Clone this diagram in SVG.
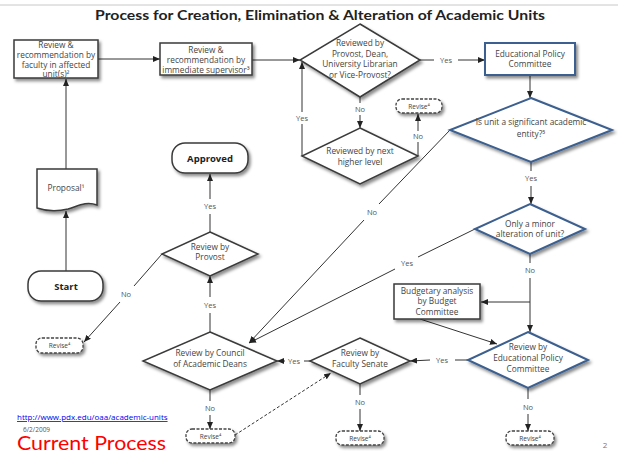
<svg xmlns="http://www.w3.org/2000/svg" width="618" height="454" viewBox="0 0 618 454">
<defs>
<filter id="sh" x="-20%" y="-20%" width="150%" height="160%">
<feDropShadow dx="2" dy="2.5" stdDeviation="1.5" flood-color="#000" flood-opacity="0.45"/>
</filter>
<marker id="ar" markerUnits="userSpaceOnUse" markerWidth="8" markerHeight="6" refX="7" refY="3" orient="auto">
<path d="M0,0 L7,3 L0,6 z" fill="#222"/>
</marker>
<style>
.box{fill:#fff;stroke:#3a3a3a;stroke-width:1.5;filter:url(#sh)}
.blue{fill:#fff;stroke:#3b5f8e;stroke-width:2;filter:url(#sh)}
.dash{fill:#fff;stroke:#444;stroke-width:1.3;stroke-dasharray:3 1.5;filter:url(#sh)}
.t{font-family:"Open Sans","DejaVu Sans",sans-serif;font-size:8.3px;fill:#444;text-anchor:middle}
.b{font-weight:bold;font-size:9.5px;fill:#222}
.s{font-size:6.5px}
.l{font-family:"Open Sans","DejaVu Sans",sans-serif;font-size:7.5px;fill:#555;text-anchor:middle}
.c{stroke:#333;stroke-width:1;fill:none}
.a{marker-end:url(#ar)}
.d{stroke-dasharray:3 2}
</style>
</defs>
<rect width="618" height="454" fill="#fff"/>
<line x1="0" y1="5" x2="618" y2="5" stroke="#c8c8c8" stroke-width="1"/>
<text x="320" y="20" font-family="Lato,'Open Sans',sans-serif" font-weight="bold" font-size="14" fill="#222" text-anchor="middle" textLength="450" lengthAdjust="spacingAndGlyphs">Process for Creation, Elimination &amp; Alteration of Academic Units</text>

<g id="connectors">
<line class="c a" x1="66" y1="169" x2="66" y2="79"/>
<line class="c a" x1="66" y1="271" x2="66" y2="211"/>
<line class="c a" x1="98" y1="59" x2="160" y2="59"/>
<line class="c a" x1="252" y1="60" x2="300" y2="60"/>
<line class="c" x1="420" y1="60" x2="434" y2="60"/>
<line class="c a" x1="458" y1="60" x2="485" y2="60"/>
<line class="c a" x1="530" y1="75" x2="530" y2="98"/>
<line class="c" x1="360" y1="97" x2="360" y2="103"/>
<line class="c a" x1="360" y1="115" x2="360" y2="128"/>
<line class="c" x1="302" y1="156" x2="302" y2="124"/>
<line class="c a" x1="302" y1="112" x2="302" y2="62"/>
<line class="c" x1="418" y1="156" x2="418" y2="142"/>
<line class="c a" x1="418" y1="131" x2="418" y2="114"/>
<line class="c" x1="450" y1="130" x2="379" y2="204"/>
<line class="c a" x1="364" y1="220" x2="249" y2="343"/>
<line class="c" x1="531" y1="162" x2="531" y2="171"/>
<line class="c a" x1="531" y1="186" x2="531" y2="204"/>
<line class="c" x1="475" y1="229" x2="418" y2="257"/>
<line class="c a" x1="395" y1="269" x2="249" y2="343"/>
<line class="c" x1="530" y1="254" x2="530" y2="263"/>
<line class="c a" x1="530" y1="278" x2="530" y2="332"/>
<line class="c a" x1="530" y1="302" x2="481" y2="302"/>
<line class="c a" x1="420" y1="319" x2="497" y2="344"/>
<line class="c" x1="468" y1="360" x2="455" y2="360"/>
<line class="c a" x1="430" y1="360" x2="410" y2="361"/>
<line class="c" x1="310" y1="361" x2="304" y2="361"/>
<line class="c a" x1="285" y1="361" x2="277" y2="361"/>
<line class="c" x1="210" y1="332" x2="210" y2="313"/>
<line class="c a" x1="210" y1="297" x2="210" y2="276"/>
<line class="c" x1="210" y1="232" x2="210" y2="214"/>
<line class="c a" x1="210" y1="199" x2="210" y2="174"/>
<line class="c" x1="162" y1="254" x2="134" y2="286"/>
<line class="c a" x1="120" y1="302" x2="84" y2="342"/>
<line class="c" x1="210" y1="390" x2="210" y2="401"/>
<line class="c a" x1="210" y1="415" x2="210" y2="429"/>
<line class="c" x1="360" y1="384" x2="360" y2="395"/>
<line class="c a" x1="360" y1="409" x2="360" y2="431"/>
<line class="c" x1="528" y1="388" x2="528" y2="399"/>
<line class="c a" x1="528" y1="414" x2="528" y2="431"/>
<line class="c a d" x1="235" y1="435" x2="331" y2="373"/>
<text class="l" x="446" y="63">Yes</text>
<text class="l" x="360" y="112">No</text>
<text class="l" x="302" y="121">Yes</text>
<text class="l" x="418" y="139">No</text>
<text class="l" x="531" y="181">Yes</text>
<text class="l" x="372" y="215">No</text>
<text class="l" x="407" y="266">Yes</text>
<text class="l" x="530" y="273">No</text>
<text class="l" x="442" y="363">Yes</text>
<text class="l" x="294" y="364">Yes</text>
<text class="l" x="210" y="308">Yes</text>
<text class="l" x="210" y="209">Yes</text>
<text class="l" x="126" y="297">No</text>
<text class="l" x="210" y="411">No</text>
<text class="l" x="360" y="405">No</text>
<text class="l" x="528" y="410">No</text>
</g>

<g id="start">
<rect class="box" x="28" y="271" width="75" height="30" rx="13"/>
<text class="t b" x="66" y="290">Start</text>
</g>
<g id="proposal">
<path class="box" d="M37,169 H97 V205 C86,201 78,206 68,209 C56,212 46,211 37,208 Z"/>
<text class="t" x="66" y="191" font-size="7.5">Proposal¹</text>
</g>
<g id="faculty">
<rect class="box" x="14" y="40" width="84" height="38"/>
<text class="t" x="56" y="47.5">Review &amp;</text>
<text class="t" x="56" y="57.5">recommendation by</text>
<text class="t" x="56" y="67.5">faculty in affected</text>
<text class="t" x="56" y="77">unit(s)²</text>
</g>
<g id="supervisor">
<rect class="box" x="160" y="43" width="92" height="32"/>
<text class="t" x="206" y="53">Review &amp;</text>
<text class="t" x="206" y="63">recommendation by</text>
<text class="t" x="206" y="73">immediate supervisor³</text>
</g>
<g id="reviewed-provost">
<polygon class="box" points="360,24 420,60 360,97 300,60"/>
<text class="t" x="360" y="46">Reviewed by</text>
<text class="t" x="360" y="56.5">Provost, Dean,</text>
<text class="t" x="360" y="67">University Librarian</text>
<text class="t" x="360" y="77.5">or Vice-Provost?</text>
</g>
<g id="next-level">
<polygon class="box" points="360,128 418,156 360,184 302,156"/>
<text class="t" x="360" y="154">Reviewed by next</text>
<text class="t" x="360" y="165">higher level</text>
</g>
<g id="revise-top">
<rect class="dash" x="396" y="99" width="46" height="14" rx="6"/>
<text class="t s" x="419" y="108.5">Revise⁴</text>
</g>
<g id="epc">
<rect class="blue" x="485" y="43" width="90" height="32"/>
<text class="t" x="530" y="57">Educational Policy</text>
<text class="t" x="530" y="67">Committee</text>
</g>
<g id="significant">
<polygon class="blue" points="531,98 612,130 531,162 450,130"/>
<text class="t" x="531" y="125" font-size="8.6">Is unit a significant academic</text>
<text class="t" x="531" y="137">entity?⁵</text>
</g>
<g id="minor">
<polygon class="blue" points="530,204 585,229 530,254 475,229"/>
<text class="t" x="530" y="227">Only a minor</text>
<text class="t" x="530" y="237">alteration of unit?</text>
</g>
<g id="budget">
<rect class="box" x="394" y="284" width="86" height="35"/>
<text class="t" x="437" y="294">Budgetary analysis</text>
<text class="t" x="437" y="304">by Budget</text>
<text class="t" x="437" y="315">Committee</text>
</g>
<g id="review-epc">
<polygon class="blue" points="528,332 588,360 528,388 468,360"/>
<text class="t" x="528" y="350">Review by</text>
<text class="t" x="528" y="361">Educational Policy</text>
<text class="t" x="528" y="372">Committee</text>
</g>
<g id="senate">
<polygon class="box" points="360,338 410,361 360,384 310,361"/>
<text class="t" x="360" y="356">Review by</text>
<text class="t" x="360" y="367">Faculty Senate</text>
</g>
<g id="council">
<polygon class="box" points="210,332 277,361 210,390 143,361"/>
<text class="t" x="210" y="356">Review by Council</text>
<text class="t" x="210" y="367">of Academic Deans</text>
</g>
<g id="review-provost">
<polygon class="box" points="210,232 258,254 210,276 162,254"/>
<text class="t" x="210" y="250">Review by</text>
<text class="t" x="210" y="260">Provost</text>
</g>
<g id="approved">
<rect class="box" x="172" y="143" width="76" height="30" rx="13"/>
<text class="t b" x="210" y="162">Approved</text>
</g>
<g id="revise-left">
<rect class="dash" x="36" y="338" width="47" height="15" rx="6"/>
<text class="t s" x="59.5" y="347.5">Revise⁴</text>
</g>
<g id="revise-council">
<rect class="dash" x="186" y="429" width="49" height="14" rx="6"/>
<text class="t s" x="210.5" y="438.5">Revise⁴</text>
</g>
<g id="revise-senate">
<rect class="dash" x="336" y="431" width="48" height="14" rx="6"/>
<text class="t s" x="360" y="440.5">Revise⁴</text>
</g>
<g id="revise-epc">
<rect class="dash" x="506" y="431" width="48" height="14" rx="6"/>
<text class="t s" x="530" y="440.5">Revise⁴</text>
</g>

<text x="17" y="420" font-family="'Open Sans',sans-serif" font-size="8" fill="#0000ee" text-decoration="underline">http://www.pdx.edu/oaa/academic-units</text>
<text x="23" y="432" font-family="'Open Sans',sans-serif" font-size="6.5" fill="#555">6/2/2009</text>
<text x="17" y="450" font-family="Lato,'Open Sans',sans-serif" font-size="20" fill="#ff0000" textLength="149" lengthAdjust="spacingAndGlyphs">Current Process</text>
<text x="605" y="448" font-family="'Open Sans',sans-serif" font-size="8" fill="#777" text-anchor="middle">2</text>
</svg>
